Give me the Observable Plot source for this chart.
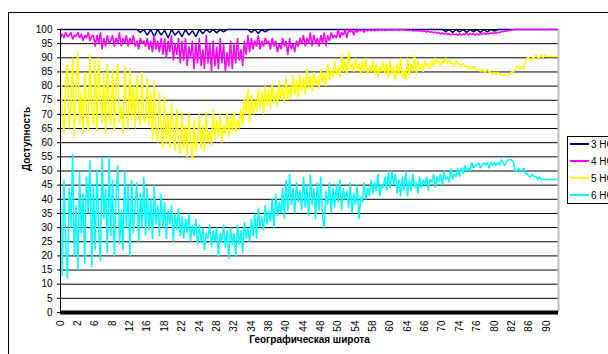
<!DOCTYPE html>
<html><head><meta charset="utf-8">
<script src="https://cdn.jsdelivr.net/npm/d3@7"></script>
<script src="https://cdn.jsdelivr.net/npm/@observablehq/plot@0.6"></script>
<style>
html,body{margin:0;padding:0;background:#fff;overflow:hidden;width:608px;height:354px;}
#wrap{position:relative;width:608px;height:354px;overflow:hidden;}
#frame{position:absolute;left:8px;top:12px;width:700px;height:400px;border:1px solid #000;}
#chart{position:absolute;left:0;top:0;}
#legend{position:absolute;left:567px;top:136px;width:80px;height:66px;border:1px solid #000;background:#fff;font:10px "Liberation Sans",Arial,sans-serif;color:#000;}
.row{position:absolute;left:2px;height:12px;display:flex;align-items:center;white-space:nowrap;}
.sw{width:19px;height:0;border-top:2px solid;margin-right:2px;}
</style></head><body>
<div id="wrap"><div id="frame"></div><div id="chart"></div><div id="legend"></div></div>
<script>
// x tick labels (category axis, one label per label-step)
const tickLabels = ["0","2","6","8","12","16","18","22","24","28","32","34","38","40","44","48","50","54","58","60","64","66","70","74","76","80","82","86","90"];
const yTicks = [0,5,10,15,20,25,30,35,40,45,50,55,60,65,70,75,80,85,90,95,100];
const seriesNames = ["3 НС","4 НС","5 НС","6 НС"];
const seriesColors = ["#000080","#ff00ff","#ffff00","#00ffff"];
const samplesPerLabel = [5, 10, 10, 10];

const ns3 = [
 100,100,100,100,100,100,100,100,100,100,
 100,100,100,100,100,100,100,100,100,100,
 100,100,100,99,100,98,100,97.5,100,98,
 99.8,97,100,98,99.5,97.5,100,98,99.6,97.5,
 100,98.5,100,99,100,98.8,100,99.2,100,100,
 100,100,100,100,100,99,100,98.6,100,99.2,
 100,100,100,100,100,100,100,100,100,100,
 100,100,100,100,100,100,100,100,100,100,
 100,100,100,100,100,100,100,100,100,100,
 100,100,100,100,100,100,100,100,100,100,
 100,100,100,100,100,100,100,100,100,100,
 100,99.3,100,99,100,99.2,100,99,100,99.3,
 100,99,100,99.2,100,99.4,100,100,100,100,
 100,100,100,100,100,100,100,100,100,100,
 100,100,100,100];
const ns4 = [
 97,98.5,97,99,97.5,98,99,96.5,98,97.5,
 99,97,98.5,96,98,97,99,96,97.5,98,
 94,98,95,99,93,97,94,98,95,96,
 98,94,97,95,99,94,97,95,98,94,
 97,95,98,94,96,93,97,95,96,94,
 97,93,96,92,98,93,96,92,97,91,
 97,90,96,92,98,89,95,91,97,88,
 96,89,97,87,94,90,96,86,95,88,
 97,87,93,86,98,88,95,85,96,87,
 94,86,97,88,95,85,92,87,96,86,
 95,88,97,89,93,87,96,91,98,92,
 97,93,96,94,98,93,96,94,97,95,
 96,93,97,94,96,92,95,93,97,94,
 96,91,97,93,95,92,96,94,97,95,
 98,94,97,95,99,94,98,95,97,94,
 98,95,99,94,98,96,99,97,98,97,
 100,97,99,98,100,97,100,99,100,98,
 100,99,100,99.5,100,99,100,99.5,100,99.5,
 100,99.5,100,99.6,100,99.7,100,99.6,100,99.7,
 100,99.7,100,99.8,100,99.7,100,99.8,100,99.7,
 99.8,99.6,99.8,99.5,99.7,99.5,99.6,99.4,99.6,99.3,
 99.5,99.1,99.4,99,99.2,98.8,99.1,98.6,99,98.4,
 98.8,98.3,98.7,98.2,98.6,98,98.5,98.1,98.4,97.9,
 98.6,98,98.4,98.2,98.8,98,98.6,98.2,98.7,98,
 98.5,98.1,98.6,98.3,98.8,98.2,98.7,98.4,98.9,98.5,
 99,98.6,99.1,98.8,99.3,99.2,99.5,99.4,99.6,99.7,
 99.8,99.9,100,100,100,100,100,100,100,100,
 100,100,100,100,100,100,100,100,100,100,
 100,100,100,100,100,100,100];
const ns5 = [
 86,70,63,82,88,65,74,90,62,80,
 92,66,78,63,85,70,64,91,72,66,
 89,64,90,75,67,85,63,88,70,66,
 86,64,79,88,67,73,63,87,70,65,
 86,68,80,65,84,70,66,85,69,67,
 83,66,78,61,82,65,60,78,64,58,
 76,60,70,58,74,62,57,72,60,56,
 71,58,66,55,70,60,54,68,57,62,
 70,58,66,57,71,60,64,59,72,61,
 68,62,70,60,66,63,71,62,69,64,
 71,63,68,65,72,66,76,70,79,67,
 77,70,75,71,79,72,78,70,80,73,
 79,72,81,74,78,73,82,75,80,74,
 83,75,80,76,84,77,82,76,84,78,
 83,77,86,79,84,78,85,80,83,79,
 86,81,85,80,88,82,86,83,89,84,
 87,83,91,85,89,84,92,86,88,85,
 90,86,88,84,89,85,90,84,87,85,
 89,84,88,83,87,85,89,84,88,83,
 89,84,87,82,88,84,90,83,86,82,
 90,83,88,85,91,84,89,86,88,85,
 89,87,88,86,89,87,90,88,89,87,
 89,88,90,88,89,88,88,87,89,88,
 88,87,88,87,87,86,87,86,87,86,
 86,86,85,86,85,85,86,85,85,84,
 85,84,85,84,84,84,84,83.7,84,84,
 85,85,86,87,87,86,87,86,89,90,
 90,89,90,90,91,90,90,91,90,91,
 90.5,90.5,90.5,90.5,90.5,90.5,90.5];
const ns6 = [
 40,13,47,25,12,44,30,56,20,38,
 15,50,28,42,17,48,35,54,16,45,
 22,50,30,18,55,33,44,21,55,27,
 47,20,40,52,24,36,22,50,30,45,
 20,47,28,38,46,25,42,30,48,27,
 44,29,40,26,45,31,38,27,42,30,
 39,26,36,31,38,25,35,29,37,27,
 34,26,33,28,35,25,31,27,33,24,
 31,25,30,22,28,26,31,23,29,25,
 30,20,28,25,31,23,29,19,30,24,
 28,20,31,24,29,21,32,26,30,25,
 33,27,35,26,37,30,34,29,38,31,
 36,32,40,30,42,34,39,35,44,33,
 47,36,49,38,44,35,46,39,43,36,
 48,37,45,34,49,38,44,33,46,36,
 48,34,30,43,38,46,35,44,37,45,
 39,47,36,44,40,43,37,46,35,42,
 38,45,33,41,39,46,40,44,41,47,
 42,46,43,49,41,45,44,48,43,50,
 44,50,45,49,42,47,41,48,43,50,
 41,47,43,49,44,46,42,48,44,47,
 45,48,43,47,46,49,44,48,46,49,
 45,50,47,48,46,51,47,49,48,51,
 48,51,49,52,50,51,50,53,51,52,
 52,53,51,52,53,52,53,51,53,52,
 53,52,53,52,54,53,52,53,54,54,
 54,53,50,50,51,50,50,51,49,49,
 48,48,49,48,48,47,48,47,47,47,
 47,47,47,47,47,47,47];

const seriesValues = [ns3, ns4, ns5, ns6];
const xMax = (ns6.length - 1) / samplesPerLabel[3] + 0.1;

const lineMarks = seriesValues.map((vals, k) =>
  Plot.line(vals.map((v, i) => ({x: i / samplesPerLabel[k], y: v})), {
    x: "x", y: "y", stroke: seriesColors[k], strokeWidth: 1.5, strokeLinejoin: "miter"
  })
);

const font = '"Liberation Sans", Arial, sans-serif';
const chart = Plot.plot({
  width: 608, height: 354,
  marginLeft: 60, marginRight: 50, marginTop: 29, marginBottom: 42,
  x: {domain: [0, xMax], axis: null},
  y: {domain: [0, 100], axis: null},
  style: {fontFamily: font, fontSize: "10px", background: "transparent", overflow: "visible", color: "#000"},
  marks: [
    Plot.ruleY(yTicks, {stroke: "#000", strokeWidth: 1}),
    Plot.ruleX([xMax], {stroke: "#c0c0c0", strokeWidth: 2}),
    ...lineMarks,
    Plot.ruleX([0], {stroke: "#000", strokeWidth: 1}),
    Plot.ruleY([0], {stroke: "#000", strokeWidth: 4}),
    Plot.axisY({ticks: yTicks, tickSize: 3, tickPadding: 5, label: null, fontSize: 10, stroke: "#000"}),
    Plot.axisX({ticks: d3.range(tickLabels.length), tickFormat: i => tickLabels[i], tickRotate: -90, tickSize: 0, tickPadding: 8, label: null, fontSize: 10}),
    Plot.text(["Доступность"], {frameAnchor: "left", dx: -34, rotate: -90, fontWeight: "bold", fontSize: 10, fill: "#000"}),
    Plot.text(["Географическая широта"], {frameAnchor: "bottom", dy: 30, fontWeight: "bold", fontSize: 10, fill: "#000"})
  ]
});
document.getElementById("chart").appendChild(chart);

const legend = document.getElementById("legend");
const rowTops = [1, 18, 35, 52];
seriesNames.forEach((name, k) => {
  const row = document.createElement("div");
  row.className = "row";
  row.style.top = rowTops[k] + "px";
  const sw = document.createElement("span");
  sw.className = "sw";
  sw.style.borderTopColor = seriesColors[k];
  row.appendChild(sw);
  row.appendChild(document.createTextNode(name));
  legend.appendChild(row);
});
</script></body></html>
